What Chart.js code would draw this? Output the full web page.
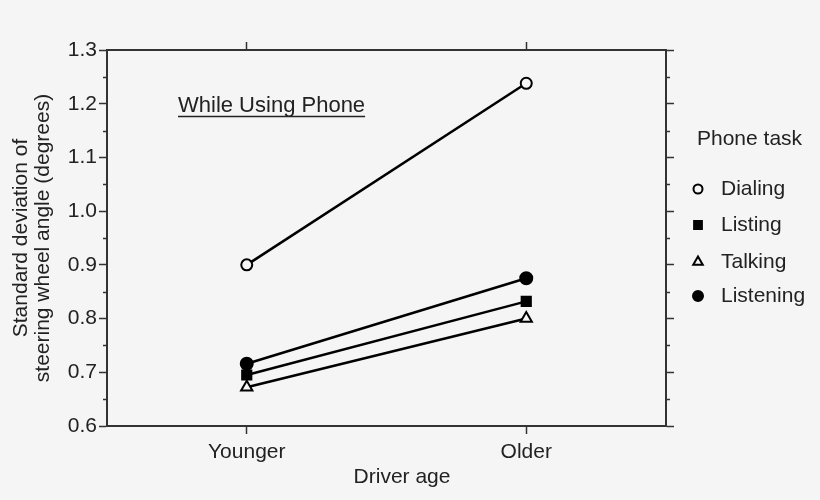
<!DOCTYPE html>
<html>
<head>
<meta charset="utf-8">
<script src="https://cdn.jsdelivr.net/npm/chart.js@4/dist/chart.umd.min.js"></script>
<style>
  html, body { margin: 0; padding: 0; background: #f5f5f5; }
  #wrap { width: 820px; height: 500px; }
</style>
</head>
<body>
<div id="wrap"><canvas id="myChart" width="820" height="500"></canvas></div>
<script>
// data
const ages = ['Younger', 'Older'];
const tasks = ['Dialing', 'Listing', 'Talking', 'Listening'];
const dialing = [0.900, 1.238];
const listing = [0.695, 0.832];
const talking = [0.672, 0.800];
const listening = [0.716, 0.875];
const yTicks = [0.6, 0.7, 0.8, 0.9, 1.0, 1.1, 1.2, 1.3];

const BG = '#f5f5f5';
const INK = '#222';
const FONT = "'Liberation Sans', Arial, Helvetica, sans-serif";
const FS = 21;

const toPoints = (vals) => vals.map((v, i) => ({ x: i + 1, y: v }));
const markers = [
    { style: 'circle', radius: 5.5, fill: BG },
    { style: 'rect', radius: 6.5, fill: '#000' },
    { style: 'triangle', radius: 6.5, fill: BG },
    { style: 'circle', radius: 6, fill: '#000' }
];
const series = [dialing, listing, talking, listening];

const datasets = series.map((vals, i) => ({
    label: tasks[i],
    data: toPoints(vals),
    borderColor: '#000',
    borderWidth: 2.5,
    pointStyle: markers[i].style,
    pointRadius: markers[i].radius,
    pointBackgroundColor: markers[i].fill,
    pointBorderColor: '#000',
    pointBorderWidth: 2,
    fill: false
}));

const catTicks = (scale) => { scale.ticks = ages.map((a, i) => ({ value: i + 1 })); };

// background, minor ticks, inset title, x title and the legend box on the right
const decorations = {
    id: 'decorations',
    beforeDraw(chart) {
        const ctx = chart.ctx;
        ctx.save();
        ctx.fillStyle = BG;
        ctx.fillRect(0, 0, chart.width, chart.height);
        ctx.restore();
    },
    afterDraw(chart) {
        const ctx = chart.ctx;
        const y = chart.scales.y;
        const area = chart.chartArea;
        ctx.save();
        // minor ticks half way between the labelled ones
        ctx.strokeStyle = '#333';
        ctx.lineWidth = 1.5;
        for (let i = 0; i < yTicks.length - 1; i++) {
            const py = Math.round(y.getPixelForValue((yTicks[i] + yTicks[i + 1]) / 2)) + 0.5;
            ctx.beginPath();
            ctx.moveTo(area.left - 4, py); ctx.lineTo(area.left, py);
            ctx.moveTo(area.right, py); ctx.lineTo(area.right + 4, py);
            ctx.stroke();
        }
        // underlined inset title
        ctx.fillStyle = INK;
        ctx.font = '22px ' + FONT;
        ctx.textBaseline = 'alphabetic';
        const t = 'While Using Phone';
        const tx = 178, ty = 112;
        ctx.fillText(t, tx, ty);
        const w = ctx.measureText(t).width;
        ctx.lineWidth = 1.5;
        ctx.strokeStyle = INK;
        ctx.beginPath();
        ctx.moveTo(tx, ty + 4.5); ctx.lineTo(tx + w, ty + 4.5);
        ctx.stroke();
        // x axis title (sits a little right of centre in the original)
        ctx.font = FS + 'px ' + FONT;
        ctx.textBaseline = 'middle';
        ctx.textAlign = 'center';
        ctx.fillText('Driver age', 402, 477);
        ctx.textAlign = 'left';
        // legend
        ctx.fillText('Phone task', 697, 139);
        const rows = [189, 225, 262, 296];
        chart.data.datasets.forEach((ds, i) => {
            const mx = 698, my = rows[i];
            const opts = {
                pointStyle: ds.pointStyle,
                radius: ds.pointRadius - 1,
                borderWidth: 2,
                rotation: 0
            };
            ctx.fillStyle = ds.pointBackgroundColor;
            ctx.strokeStyle = '#000';
            ctx.lineWidth = 2;
            if (Chart.helpers && Chart.helpers.drawPoint) {
                Chart.helpers.drawPoint(ctx, opts, mx, my);
            }
            ctx.fillStyle = INK;
            ctx.fillText(ds.label, 721, my);
        });
        ctx.restore();
    }
};

const ctx = document.getElementById('myChart');
const myChart = new Chart(ctx, {
    type: 'line',
    data: { datasets },
    options: {
        responsive: false,
        animation: false,
        devicePixelRatio: 1,
        layout: { padding: 0 },
        plugins: {
            legend: { display: false },
            tooltip: { enabled: false }
        },
        scales: {
            x: {
                type: 'linear',
                position: 'bottom',
                min: 0.5,
                max: 2.5,
                afterBuildTicks: catTicks,
                afterFit: (s) => { s.height = 74; },
                ticks: {
                    color: INK,
                    font: { family: FONT, size: FS },
                    padding: 6,
                    maxRotation: 0,
                    callback: (v) => ages[v - 1] || ''
                },
                grid: { drawOnChartArea: false, tickLength: 8, tickColor: '#333', tickWidth: 1.5 },
                border: { color: '#333', width: 2 }
            },
            x2: {
                type: 'linear',
                position: 'top',
                min: 0.5,
                max: 2.5,
                afterBuildTicks: catTicks,
                afterFit: (s) => { s.height = 50; },
                ticks: { display: false },
                grid: { drawOnChartArea: false, tickLength: 8, tickColor: '#333', tickWidth: 1.5 },
                border: { color: '#333', width: 2 }
            },
            y: {
                position: 'left',
                min: 0.6,
                max: 1.3,
                afterBuildTicks: (s) => { s.ticks = yTicks.map((v) => ({ value: v })); },
                afterFit: (s) => { s.width = 107; },
                ticks: {
                    color: INK,
                    font: { family: FONT, size: FS },
                    padding: 2,
                    callback: (v) => v.toFixed(1)
                },
                grid: { drawOnChartArea: false, tickLength: 8, tickColor: '#333', tickWidth: 1.5 },
                border: { color: '#333', width: 2 },
                title: {
                    display: true,
                    text: ['Standard deviation of', 'steering wheel angle (degrees)'],
                    color: INK,
                    font: { family: FONT, size: FS, lineHeight: 1.05 },
                    padding: { top: 10, bottom: 0 }
                }
            },
            y2: {
                position: 'right',
                min: 0.6,
                max: 1.3,
                afterBuildTicks: (s) => { s.ticks = yTicks.map((v) => ({ value: v })); },
                afterFit: (s) => { s.width = 154; },
                ticks: { display: false },
                grid: { drawOnChartArea: false, tickLength: 8, tickColor: '#333', tickWidth: 1.5 },
                border: { color: '#333', width: 2 }
            }
        }
    },
    plugins: [decorations]
});
</script>
</body>
</html>
